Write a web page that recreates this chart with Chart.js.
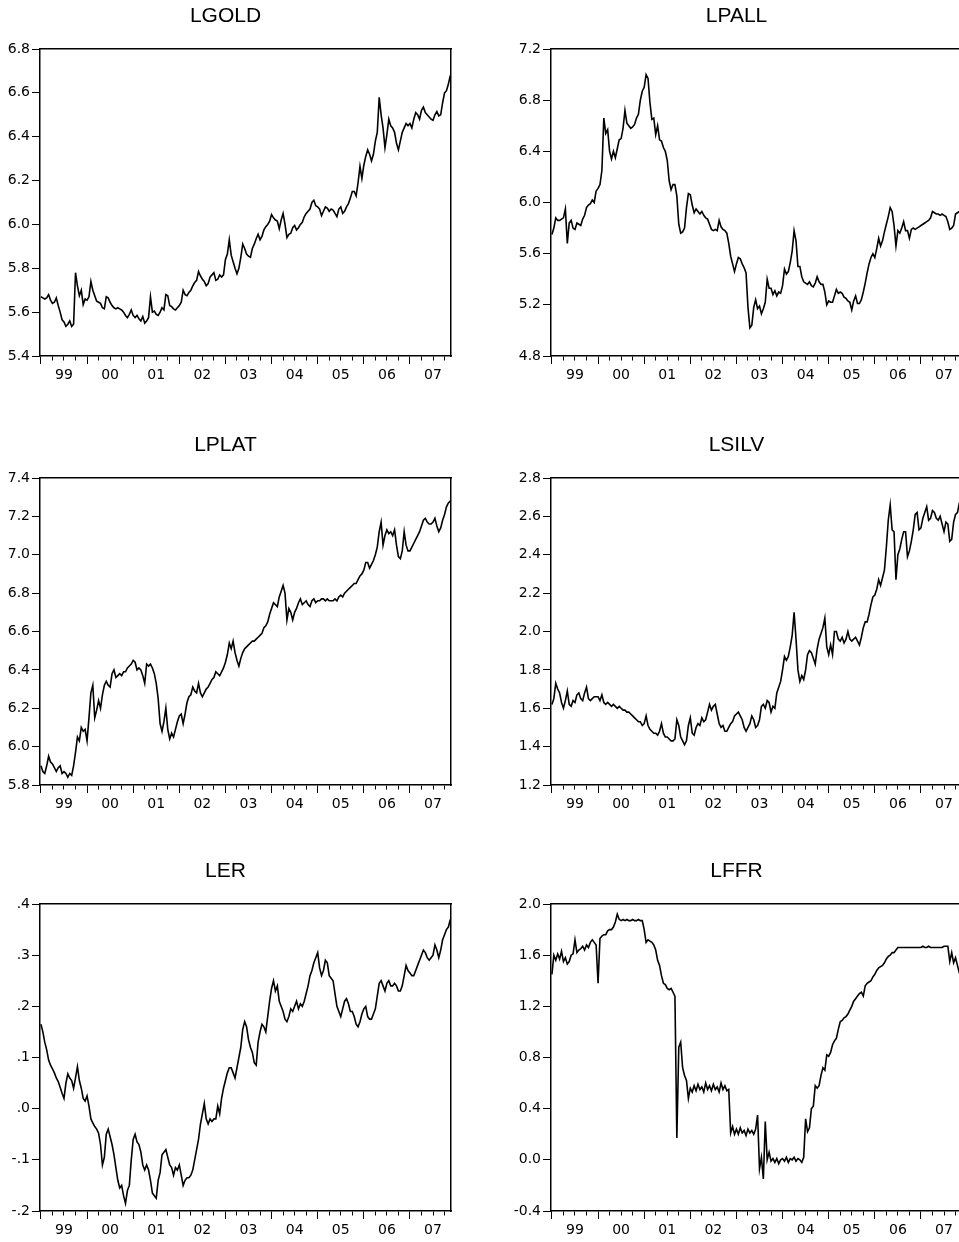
<!DOCTYPE html>
<html>
<head>
<meta charset="utf-8">
<script src="https://cdn.jsdelivr.net/npm/chart.js@4.4.0/dist/chart.umd.min.js"></script>
<style>
html,body{margin:0;padding:0;background:#fff;}
body{width:959px;height:1242px;position:relative;overflow:hidden;}
.p{position:absolute;width:470px;height:400px;}
canvas{display:block;}
</style>
</head>
<body>
<div class="p" style="left:0px;top:0px"><canvas id="c0" width="470" height="400"></canvas></div>
<div class="p" style="left:511px;top:0px"><canvas id="c1" width="470" height="400"></canvas></div>
<div class="p" style="left:0px;top:429px"><canvas id="c2" width="470" height="400"></canvas></div>
<div class="p" style="left:511px;top:429px"><canvas id="c3" width="470" height="400"></canvas></div>
<div class="p" style="left:0px;top:855px"><canvas id="c4" width="470" height="400"></canvas></div>
<div class="p" style="left:511px;top:855px"><canvas id="c5" width="470" height="400"></canvas></div>
<script>
// ---- sample: semi-monthly observations, Jan 1999 .. Nov 2007 ----
const START_YEAR = 1999;
const OBS_PER_YEAR = 24;
const X_MIN = 1998.98;
const X_MAX = 2007.89;

// ---- x tick labels (centered in each year) ----
const yearLabels = ['99','00','01','02','03','04','05','06','07'];

// ---- series ----
const lgold = [
5.67,5.665,5.66,5.665,5.68,5.655,5.64,5.645,5.665,5.63,5.60,5.565,5.555,5.535,5.545,5.56,5.535,5.545,5.78,5.72,5.675,5.70,5.635,5.66,
5.655,5.67,5.74,5.70,5.675,5.65,5.645,5.64,5.62,5.615,5.67,5.665,5.645,5.63,5.62,5.615,5.62,5.615,5.61,5.60,5.585,5.575,5.59,5.61,
5.585,5.575,5.585,5.57,5.56,5.58,5.55,5.56,5.575,5.67,5.60,5.605,5.59,5.585,5.60,5.62,5.61,5.68,5.675,5.63,5.625,5.615,5.61,5.62,
5.63,5.645,5.70,5.68,5.675,5.69,5.70,5.72,5.735,5.745,5.785,5.765,5.75,5.74,5.72,5.73,5.76,5.77,5.78,5.745,5.75,5.77,5.76,5.77,
5.84,5.865,5.93,5.86,5.83,5.80,5.775,5.80,5.85,5.91,5.89,5.865,5.855,5.85,5.89,5.91,5.935,5.955,5.93,5.945,5.975,5.99,6.00,6.015,
6.045,6.03,6.02,6.015,5.98,6.02,6.05,6.00,5.94,5.955,5.96,5.985,5.995,5.975,5.985,6.00,6.01,6.035,6.05,6.06,6.07,6.10,6.11,6.085,
6.08,6.07,6.04,6.06,6.08,6.075,6.06,6.07,6.065,6.05,6.035,6.07,6.08,6.05,6.06,6.08,6.095,6.12,6.15,6.15,6.13,6.19,6.265,6.21,
6.27,6.31,6.34,6.32,6.29,6.32,6.38,6.42,6.58,6.50,6.44,6.35,6.41,6.48,6.45,6.44,6.42,6.37,6.34,6.38,6.42,6.44,6.46,6.45,
6.46,6.44,6.48,6.51,6.50,6.48,6.52,6.535,6.51,6.50,6.49,6.48,6.475,6.50,6.515,6.495,6.50,6.555,6.60,6.61,6.64,6.68
];
const lpall = [
5.75,5.80,5.88,5.86,5.86,5.87,5.88,5.95,5.68,5.84,5.86,5.80,5.79,5.84,5.83,5.82,5.87,5.90,5.96,5.98,5.99,6.02,6.00,6.09,
6.11,6.14,6.25,6.66,6.54,6.57,6.40,6.34,6.40,6.35,6.42,6.49,6.50,6.58,6.72,6.62,6.60,6.58,6.59,6.61,6.66,6.69,6.80,6.87,
6.90,7.00,6.97,6.78,6.65,6.66,6.53,6.60,6.49,6.48,6.43,6.40,6.33,6.17,6.10,6.14,6.14,6.05,5.83,5.76,5.77,5.80,5.96,6.07,
6.06,5.98,5.92,5.95,5.93,5.91,5.93,5.90,5.88,5.87,5.83,5.79,5.78,5.79,5.78,5.86,5.81,5.79,5.78,5.76,5.68,5.58,5.52,5.46,
5.52,5.57,5.56,5.52,5.49,5.45,5.18,5.02,5.04,5.18,5.24,5.17,5.19,5.13,5.17,5.22,5.40,5.33,5.33,5.28,5.31,5.27,5.30,5.29,
5.35,5.48,5.44,5.46,5.53,5.62,5.78,5.70,5.50,5.50,5.42,5.38,5.37,5.36,5.38,5.35,5.34,5.37,5.42,5.38,5.36,5.36,5.30,5.20,
5.23,5.22,5.22,5.27,5.32,5.29,5.30,5.29,5.26,5.25,5.23,5.22,5.16,5.23,5.27,5.21,5.21,5.24,5.30,5.37,5.45,5.52,5.57,5.60,
5.57,5.64,5.72,5.66,5.70,5.77,5.83,5.89,5.96,5.93,5.82,5.66,5.78,5.76,5.80,5.85,5.78,5.78,5.72,5.79,5.80,5.79,5.80,5.81,
5.82,5.83,5.84,5.85,5.86,5.88,5.93,5.92,5.91,5.91,5.90,5.91,5.90,5.89,5.85,5.79,5.80,5.82,5.91,5.92,5.93,5.95
];
const lplat = [
5.90,5.87,5.86,5.90,5.95,5.92,5.91,5.89,5.87,5.89,5.90,5.86,5.87,5.86,5.84,5.86,5.85,5.90,5.97,6.05,6.03,6.10,6.08,6.09,
6.03,6.15,6.28,6.32,6.15,6.19,6.24,6.20,6.27,6.32,6.34,6.32,6.31,6.38,6.40,6.36,6.37,6.38,6.37,6.39,6.39,6.41,6.42,6.43,
6.45,6.44,6.40,6.41,6.40,6.37,6.33,6.43,6.42,6.43,6.41,6.38,6.33,6.25,6.12,6.08,6.13,6.20,6.09,6.04,6.07,6.05,6.09,6.13,
6.16,6.17,6.12,6.17,6.23,6.26,6.27,6.31,6.29,6.28,6.33,6.28,6.26,6.28,6.30,6.31,6.33,6.35,6.36,6.39,6.38,6.37,6.39,6.41,
6.44,6.48,6.54,6.51,6.55,6.49,6.45,6.42,6.46,6.49,6.51,6.52,6.53,6.54,6.55,6.55,6.56,6.57,6.58,6.59,6.62,6.63,6.65,6.69,
6.72,6.75,6.74,6.73,6.78,6.81,6.84,6.80,6.66,6.72,6.70,6.66,6.70,6.72,6.75,6.77,6.74,6.75,6.76,6.74,6.73,6.76,6.77,6.75,
6.76,6.76,6.77,6.77,6.76,6.77,6.76,6.76,6.76,6.77,6.76,6.78,6.79,6.78,6.80,6.81,6.82,6.83,6.84,6.85,6.85,6.87,6.89,6.90,
6.92,6.96,6.96,6.93,6.95,6.97,7.00,7.04,7.12,7.17,7.05,7.10,7.13,7.11,7.12,7.10,7.13,7.05,6.99,6.98,7.02,7.12,7.05,7.02,
7.02,7.04,7.06,7.08,7.10,7.12,7.15,7.18,7.19,7.17,7.16,7.16,7.17,7.19,7.15,7.12,7.14,7.18,7.21,7.25,7.27,7.28
];
const lsilv = [
1.62,1.65,1.73,1.70,1.68,1.63,1.60,1.64,1.69,1.62,1.61,1.64,1.63,1.67,1.68,1.65,1.64,1.68,1.71,1.65,1.64,1.65,1.66,1.66,
1.66,1.64,1.67,1.63,1.62,1.63,1.62,1.61,1.62,1.61,1.60,1.61,1.60,1.59,1.59,1.58,1.58,1.57,1.56,1.55,1.54,1.53,1.53,1.51,
1.52,1.56,1.51,1.49,1.48,1.47,1.47,1.46,1.48,1.52,1.47,1.45,1.45,1.44,1.43,1.43,1.44,1.54,1.51,1.45,1.43,1.41,1.43,1.51,
1.55,1.47,1.46,1.50,1.52,1.51,1.55,1.53,1.54,1.58,1.62,1.59,1.61,1.62,1.57,1.52,1.50,1.51,1.48,1.48,1.50,1.52,1.53,1.56,
1.57,1.58,1.56,1.54,1.50,1.48,1.50,1.52,1.56,1.54,1.50,1.51,1.54,1.61,1.62,1.60,1.64,1.63,1.58,1.61,1.60,1.68,1.71,1.74,
1.80,1.87,1.85,1.87,1.92,1.98,2.10,1.96,1.80,1.74,1.77,1.75,1.80,1.88,1.90,1.89,1.86,1.83,1.91,1.96,1.99,2.02,2.07,1.92,
1.88,1.93,1.88,2.00,2.00,1.96,1.95,1.97,1.94,1.96,2.00,1.96,1.95,1.96,1.97,1.95,1.93,1.97,2.02,2.05,2.05,2.09,2.14,2.18,
2.19,2.22,2.27,2.24,2.28,2.32,2.44,2.58,2.66,2.53,2.52,2.27,2.40,2.43,2.48,2.52,2.52,2.39,2.42,2.47,2.53,2.61,2.62,2.53,
2.54,2.59,2.62,2.65,2.58,2.59,2.63,2.62,2.59,2.58,2.60,2.56,2.52,2.57,2.56,2.47,2.48,2.57,2.61,2.62,2.67,2.69
];
const ler = [
0.165,0.15,0.13,0.115,0.095,0.085,0.078,0.07,0.06,0.053,0.042,0.03,0.02,0.05,0.068,0.06,0.055,0.04,0.06,0.082,0.055,0.04,0.02,0.015,
0.025,0.005,-0.02,-0.028,-0.035,-0.04,-0.048,-0.07,-0.11,-0.095,-0.05,-0.04,-0.055,-0.07,-0.09,-0.115,-0.14,-0.155,-0.15,-0.17,-0.185,-0.16,-0.15,-0.10,
-0.06,-0.05,-0.065,-0.07,-0.085,-0.11,-0.12,-0.11,-0.12,-0.14,-0.165,-0.17,-0.175,-0.14,-0.125,-0.09,-0.085,-0.08,-0.095,-0.11,-0.115,-0.13,-0.115,-0.12,
-0.11,-0.13,-0.15,-0.14,-0.135,-0.135,-0.13,-0.12,-0.10,-0.08,-0.06,-0.03,-0.01,0.01,-0.02,-0.03,-0.02,-0.025,-0.02,-0.02,0.005,-0.01,0.02,0.04,
0.055,0.07,0.08,0.08,0.07,0.06,0.08,0.10,0.12,0.155,0.17,0.16,0.135,0.12,0.11,0.09,0.085,0.13,0.15,0.165,0.16,0.15,0.18,0.21,
0.235,0.25,0.23,0.24,0.21,0.20,0.19,0.175,0.17,0.18,0.195,0.19,0.20,0.21,0.195,0.205,0.20,0.21,0.225,0.24,0.26,0.27,0.285,0.295,
0.305,0.275,0.26,0.27,0.29,0.285,0.26,0.255,0.25,0.225,0.20,0.19,0.18,0.195,0.21,0.215,0.205,0.19,0.19,0.18,0.165,0.16,0.17,0.185,
0.195,0.20,0.18,0.175,0.175,0.185,0.195,0.22,0.245,0.25,0.24,0.23,0.245,0.25,0.24,0.24,0.245,0.24,0.23,0.23,0.24,0.26,0.28,0.27,
0.265,0.26,0.26,0.27,0.28,0.29,0.30,0.31,0.305,0.295,0.29,0.295,0.30,0.32,0.31,0.295,0.31,0.33,0.34,0.35,0.355,0.37
];
const lffr = [
1.45,1.60,1.56,1.61,1.57,1.63,1.55,1.58,1.53,1.55,1.60,1.61,1.72,1.62,1.64,1.65,1.67,1.64,1.68,1.66,1.70,1.72,1.70,1.68,
1.38,1.73,1.75,1.76,1.76,1.79,1.80,1.80,1.82,1.86,1.92,1.88,1.87,1.88,1.87,1.88,1.87,1.87,1.88,1.87,1.87,1.88,1.87,1.87,
1.80,1.70,1.72,1.71,1.70,1.68,1.64,1.56,1.52,1.44,1.38,1.37,1.34,1.33,1.34,1.31,1.28,0.17,0.88,0.92,0.72,0.66,0.62,0.48,
0.56,0.53,0.58,0.54,0.59,0.55,0.57,0.53,0.60,0.55,0.58,0.54,0.59,0.55,0.57,0.53,0.60,0.55,0.58,0.54,0.55,0.21,0.26,0.20,
0.24,0.20,0.25,0.21,0.23,0.19,0.24,0.21,0.23,0.20,0.24,0.35,-0.07,0.02,-0.15,0.30,0.00,0.06,-0.01,0.01,-0.02,0.01,-0.03,0.00,
0.01,-0.01,0.02,-0.02,0.01,0.00,0.02,-0.01,0.01,0.00,-0.02,0.02,0.32,0.22,0.25,0.40,0.42,0.58,0.56,0.58,0.66,0.72,0.70,0.82,
0.81,0.84,0.90,0.93,0.95,1.02,1.08,1.09,1.11,1.12,1.14,1.17,1.20,1.24,1.26,1.28,1.30,1.31,1.28,1.36,1.38,1.39,1.40,1.43,
1.45,1.48,1.50,1.51,1.52,1.54,1.57,1.59,1.60,1.62,1.62,1.64,1.66,1.66,1.66,1.66,1.66,1.66,1.66,1.66,1.66,1.66,1.66,1.66,
1.66,1.67,1.66,1.66,1.67,1.66,1.66,1.66,1.66,1.66,1.66,1.66,1.67,1.67,1.67,1.55,1.62,1.54,1.58,1.52,1.46,1.45
];

// ---- y tick values ----
const lgoldTicks = [5.4,5.6,5.8,6.0,6.2,6.4,6.6,6.8];
const lpallTicks = [4.8,5.2,5.6,6.0,6.4,6.8,7.2];
const lplatTicks = [5.8,6.0,6.2,6.4,6.6,6.8,7.0,7.2,7.4];
const lsilvTicks = [1.2,1.4,1.6,1.8,2.0,2.2,2.4,2.6,2.8];
const lerTicks   = [-0.2,-0.1,0.0,0.1,0.2,0.3,0.4];
const lffrTicks  = [-0.4,0.0,0.4,0.8,1.2,1.6,2.0];

// ---- derived ----
const dates = lgold.map((_, i) => START_YEAR + i / OBS_PER_YEAR);
const quarterTicks = [];
for (let y = START_YEAR; y <= 2007; y++) for (let q = 0; q < 4; q++) quarterTicks.push(y + q / 4);

const TICK_FONT = {family: "'DejaVu Sans', 'Liberation Sans', Arial, sans-serif", size: 14};
const TITLE_FONT = {family: "'Liberation Sans', Arial, sans-serif", size: 21, weight: 'normal', lineHeight: 1.2};

const fmt1 = v => v.toFixed(1);
const fmtDot = v => { const s = v.toFixed(1); return s.replace(/^(-?)0\./, '$1.'); };

function makePanel(id, title, values, yTicks, fmt) {
  const pts = values.map((v, i) => ({x: dates[i], y: v}));
  new Chart(document.getElementById(id), {
    type: 'line',
    data: {datasets: [{data: pts, borderColor: '#000', borderWidth: 1.6, pointRadius: 0, tension: 0, fill: false}]},
    options: {
      responsive: false,
      animation: false,
      events: [],
      layout: {padding: {left: 0, right: 19, top: 0, bottom: 0}, autoPadding: false},
      plugins: {
        legend: {display: false},
        tooltip: {enabled: false},
        title: {display: true, text: title, color: '#000', font: TITLE_FONT, padding: {top: 4, bottom: 19.8}}
      },
      scales: {
        x: {
          type: 'linear', position: 'bottom', min: X_MIN, max: X_MAX,
          afterFit: s => { s.height = 44; },
          afterBuildTicks: s => { s.ticks = quarterTicks.map(v => ({value: v})); },
          ticks: {
            autoSkip: false, maxRotation: 0, minRotation: 0, padding: 3, color: '#000', font: TICK_FONT,
            callback: v => (Math.abs(v % 1 - 0.5) < 1e-9 ? yearLabels[Math.floor(v) - START_YEAR] : '')
          },
          grid: {
            drawOnChartArea: false, drawTicks: true, tickLength: 8, tickColor: '#000', tickWidth: 1,
            tickBorderDash: c => (c.tick && Math.abs(c.tick.value % 1) < 1e-9 ? [] : [4, 100])
          },
          border: {display: true, color: '#000', width: 1.5}
        },
        x2: {
          type: 'linear', position: 'top', min: X_MIN, max: X_MAX,
          afterFit: s => { s.height = 0; },
          ticks: {display: false},
          grid: {display: false, drawTicks: false},
          border: {display: true, color: '#000', width: 1.5}
        },
        y: {
          type: 'linear', position: 'left', min: yTicks[0], max: yTicks[yTicks.length - 1],
          afterFit: s => { s.width = 40; },
          afterBuildTicks: s => { s.ticks = yTicks.map(v => ({value: v})); },
          ticks: {padding: 2, color: '#000', font: TICK_FONT, callback: v => fmt(v)},
          grid: {drawOnChartArea: false, drawTicks: true, tickLength: 8, tickColor: '#000', tickWidth: 1},
          border: {display: true, color: '#000', width: 1.5}
        },
        y2: {
          type: 'linear', position: 'right', min: yTicks[0], max: yTicks[yTicks.length - 1],
          afterFit: s => { s.width = 0; },
          ticks: {display: false},
          grid: {display: false, drawTicks: false},
          border: {display: true, color: '#000', width: 1.5}
        }
      }
    }
  });
}

makePanel('c0', 'LGOLD', lgold, lgoldTicks, fmt1);
makePanel('c1', 'LPALL', lpall, lpallTicks, fmt1);
makePanel('c2', 'LPLAT', lplat, lplatTicks, fmt1);
makePanel('c3', 'LSILV', lsilv, lsilvTicks, fmt1);
makePanel('c4', 'LER', ler, lerTicks, fmtDot);
makePanel('c5', 'LFFR', lffr, lffrTicks, fmt1);
</script>
</body>
</html>
